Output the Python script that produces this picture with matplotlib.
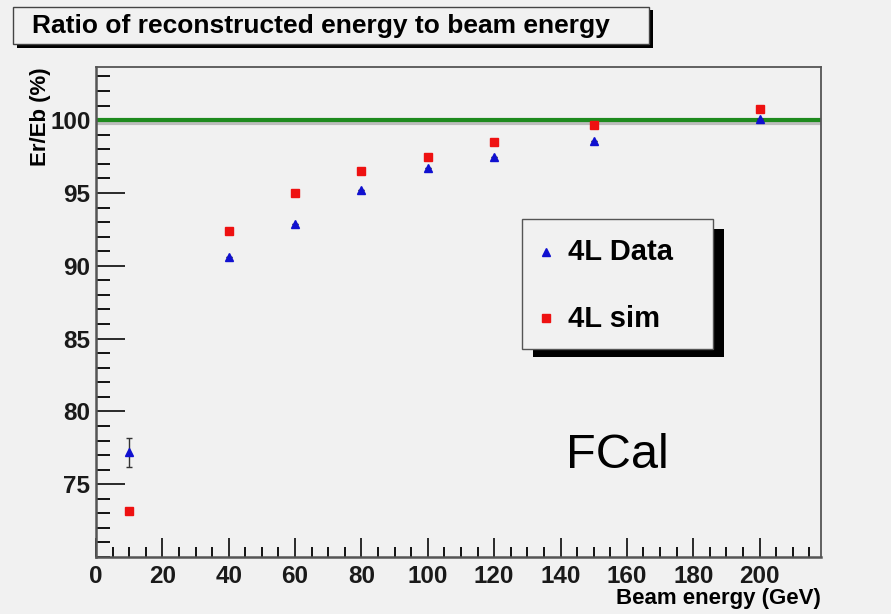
import matplotlib
matplotlib.use("Agg")
import matplotlib.pyplot as plt
from matplotlib.patches import Rectangle
from matplotlib.ticker import MultipleLocator

plt.rcParams['font.family'] = ['Liberation Sans', 'DejaVu Sans']

# data
energy = [10, 40, 60, 80, 100, 120, 150, 200]
data_4l = [77.2, 90.6, 92.9, 95.2, 96.7, 97.5, 98.6, 100.1]
data_err = [1.0, 0, 0, 0, 0, 0, 0, 0]
sim_4l = [73.15, 92.4, 95.0, 96.5, 97.5, 98.5, 99.7, 100.8]

bg = '#f1f1f1'
fig = plt.figure(figsize=(8.91, 6.14), dpi=100, facecolor=bg)
ax = fig.add_axes([96/891, 1-557/614, (821-96)/891, (557-67)/614])
ax.set_facecolor(bg)

ax.set_xlim(0, 218.5)
ax.set_ylim(70, 103.65)

# reference line at 100
ax.axhline(99.8, color='#bdbdbd', lw=3, zorder=1)
ax.axhline(100, color='#1e8a1e', lw=3, zorder=2)

ax.errorbar(energy, data_4l, yerr=data_err, fmt='^', color='#1010d0', ms=6,
            ecolor='#333333', elinewidth=1, capsize=2.5, capthick=1, zorder=4)
ax.plot(energy, sim_4l, 's', color='#ee1111', ms=6, zorder=3)

# ticks in ROOT style
ax.xaxis.set_major_locator(MultipleLocator(20))
ax.xaxis.set_minor_locator(MultipleLocator(5))
ax.yaxis.set_major_locator(MultipleLocator(5))
ax.yaxis.set_minor_locator(MultipleLocator(1))
ax.tick_params(axis='x', which='major', direction='in', length=14, width=1.3, pad=6)
ax.tick_params(axis='x', which='minor', direction='in', length=7, width=1.3)
ax.tick_params(axis='y', which='major', direction='in', length=21, width=1.3, pad=4)
ax.tick_params(axis='y', which='minor', direction='in', length=10, width=1.3)
ax.tick_params(labelsize=17.5, colors='#1a1a1a')
for lab in ax.get_xticklabels() + ax.get_yticklabels():
    lab.set_fontweight('bold')
ax.set_yticks([75, 80, 85, 90, 95, 100])
for s in ['top', 'right']:
    ax.spines[s].set_color('#555555')
    ax.spines[s].set_linewidth(1.3)
for s in ['bottom', 'left']:
    ax.spines[s].set_color('#555555')
    ax.spines[s].set_linewidth(1.8)

ax.set_xlabel('Beam energy (GeV)', fontsize=16, fontweight='bold', loc='right', labelpad=0)
ax.set_ylabel('Er/Eb (%)', fontsize=16, fontweight='bold', loc='top', labelpad=-1)

# title box with shadow
fig.patches.append(Rectangle((17/891, 1-48/614), 636/891, 38/614, transform=fig.transFigure,
                             facecolor='black', edgecolor='none', zorder=0))
fig.patches.append(Rectangle((13/891, 1-44/614), 636/891, 37/614, transform=fig.transFigure,
                             facecolor=bg, edgecolor='#444444', lw=1, zorder=1))
fig.text(321/891, 1-26/614, 'Ratio of reconstructed energy to beam energy',
         fontsize=19, fontweight='bold', ha='center', va='center', zorder=2)

# legend box with shadow
fig.patches.append(Rectangle((533/891, 1-357/614), 191/891, 128/614, transform=fig.transFigure,
                             facecolor='black', edgecolor='none', zorder=3))
fig.patches.append(Rectangle((522/891, 1-349/614), 191/891, 130/614, transform=fig.transFigure,
                             facecolor=bg, edgecolor='#555555', lw=1, zorder=4))
fig.lines.append(plt.Line2D([546/891], [1-252/614], marker='^', color='#1010d0', ms=6,
                            transform=fig.transFigure, zorder=5))
fig.lines.append(plt.Line2D([546/891], [1-318/614], marker='s', color='#ee1111', ms=6,
                            transform=fig.transFigure, zorder=5))
fig.text(568/891, 1-252/614, '4L Data', fontsize=21, fontweight='bold', va='center', zorder=5)
fig.text(568/891, 1-319/614, '4L sim', fontsize=21, fontweight='bold', va='center', zorder=5)

fig.text(617/891, 1-456/614, 'FCal', fontsize=35, ha='center', va='center')

fig.savefig('out.png', dpi=100, facecolor=bg)
